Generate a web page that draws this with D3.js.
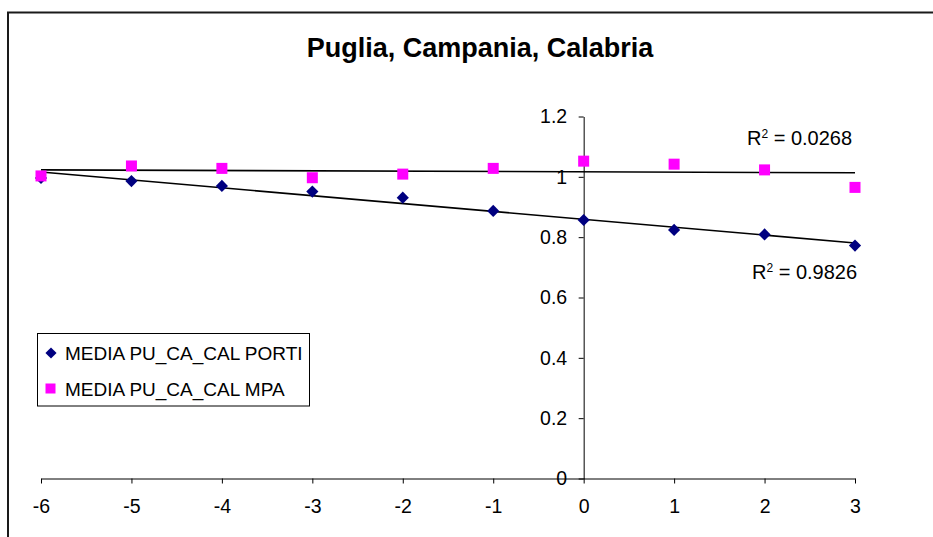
<!DOCTYPE html>
<html>
<head>
<meta charset="utf-8">
<script src="https://cdn.jsdelivr.net/npm/d3@7"></script>
<style>
  body { margin: 0; background: #fff; }
  svg { display: block; font-family: Arial, "Liberation Sans", sans-serif; }
</style>
</head>
<body>
<script>
var w = 933;
var h = 537;

// ---- data ----
var years = [-6, -5, -4, -3, -2, -1, 0, 1, 2, 3];
var porti = [0.996, 0.986, 0.970, 0.951, 0.931, 0.887, 0.857, 0.824, 0.809, 0.772];
var mpa = [1.003, 1.036, 1.028, 0.997, 1.009, 1.028, 1.052, 1.042, 1.023, 0.965];
var seriesNames = ["MEDIA PU_CA_CAL PORTI", "MEDIA PU_CA_CAL MPA"];
var r2Labels = ["0.9826", "0.0268"];
var yTicks = [0, 0.2, 0.4, 0.6, 0.8, 1, 1.2];
var xTicks = [-6, -5, -4, -3, -2, -1, 0, 1, 2, 3];
var title = "Puglia, Campania, Calabria";

var navy = "#000080";
var pink = "#ff00ff";

var svg = d3.select("body")
    .append("svg")
    .attr("width", w)
    .attr("height", h);

var x = d3.scaleLinear().domain([-6, 3]).range([41, 855]);
var y = d3.scaleLinear().domain([0, 1.2]).range([478.5, 116.5]);

//---frame-----
svg.append("rect")
    .attr("x", 8)
    .attr("y", 12.5)
    .attr("width", 960)
    .attr("height", 560)
    .attr("fill", "none")
    .attr("stroke", "#1a1a1a")
    .attr("stroke-width", 2);

//---title-----
svg.append("text")
    .text(title)
    .attr("x", 480)
    .attr("y", 56.5)
    .attr("text-anchor", "middle")
    .attr("font-size", 27)
    .attr("font-weight", "bold")
    .attr("fill", "#000");

//---axes-----
var xAxis = svg.append("g")
    .attr("transform", "translate(0," + y(0) + ")")
    .call(d3.axisBottom(x).tickValues(xTicks).tickSize(5).tickSizeOuter(0).tickPadding(16).tickFormat(function (d) { return String(d); }));

var yAxis = svg.append("g")
    .attr("transform", "translate(" + x(0) + ",0)")
    .call(d3.axisLeft(y).tickValues(yTicks).tickSize(5).tickSizeOuter(0).tickPadding(11.5).tickFormat(function (d) { return String(+d.toFixed(1)); }));

svg.selectAll(".tick text")
    .attr("font-size", 19.5)
    .attr("font-family", "Arial, 'Liberation Sans', sans-serif")
    .attr("fill", "#000");
svg.selectAll(".domain, .tick line").attr("stroke", "#000");

//---trendlines-----
function fit(xs, ys) {
    var mx = d3.mean(xs), my = d3.mean(ys);
    var sxy = d3.sum(xs, function (v, i) { return (v - mx) * (ys[i] - my); });
    var sxx = d3.sum(xs, function (v) { return (v - mx) * (v - mx); });
    var b = sxy / sxx;
    return function (v) { return my + b * (v - mx); };
}

var line = d3.line()
    .x(function (d) { return x(d[0]); })
    .y(function (d) { return y(d[1]); });

[porti, mpa].forEach(function (vals) {
    var f = fit(years, vals);
    var ends = d3.extent(years);
    svg.append("path")
        .attr("d", line(ends.map(function (v) { return [v, f(v)]; })))
        .attr("fill", "none")
        .attr("stroke", "#000")
        .attr("stroke-width", 1.6);
});

//---markers-----
svg.selectAll(".porti")
    .data(years)
    .enter()
    .append("path")
    .attr("class", "porti")
    .attr("d", d3.symbol().type(d3.symbolSquare).size(74))
    .attr("transform", function (d, i) { return "translate(" + x(d) + "," + y(porti[i]) + ") rotate(45)"; })
    .attr("fill", navy);

svg.selectAll(".mpa")
    .data(years)
    .enter()
    .append("rect")
    .attr("class", "mpa")
    .attr("x", function (d) { return x(d) - 5.5; })
    .attr("y", function (d, i) { return y(mpa[i]) - 5.5; })
    .attr("width", 11)
    .attr("height", 11)
    .attr("fill", pink);

//---R2 labels-----
function r2(xPos, yPos, val) {
    var t = svg.append("text")
        .attr("x", xPos)
        .attr("y", yPos)
        .attr("font-size", 20)
        .attr("fill", "#000");
    t.append("tspan").text("R");
    t.append("tspan").text("2").attr("font-size", 12).attr("dy", -7);
    t.append("tspan").text(" = " + val).attr("dy", 7);
}
r2(752, 279, r2Labels[0]);
r2(747, 145, r2Labels[1]);

//---legend-----
svg.append("rect")
    .attr("x", 37.5)
    .attr("y", 333.5)
    .attr("width", 272)
    .attr("height", 72.5)
    .attr("fill", "#fff")
    .attr("stroke", "#000")
    .attr("stroke-width", 1);

svg.append("path")
    .attr("d", d3.symbol().type(d3.symbolSquare).size(62))
    .attr("transform", "translate(51,353) rotate(45)")
    .attr("fill", navy);

svg.append("rect")
    .attr("x", 45.5)
    .attr("y", 383.5)
    .attr("width", 10)
    .attr("height", 10)
    .attr("fill", pink);

svg.append("text")
    .text(seriesNames[0])
    .attr("x", 65)
    .attr("y", 359.5)
    .attr("font-size", 19)
    .attr("fill", "#000");

svg.append("text")
    .text(seriesNames[1])
    .attr("x", 65)
    .attr("y", 395.5)
    .attr("font-size", 19)
    .attr("fill", "#000");
</script>
</body>
</html>
